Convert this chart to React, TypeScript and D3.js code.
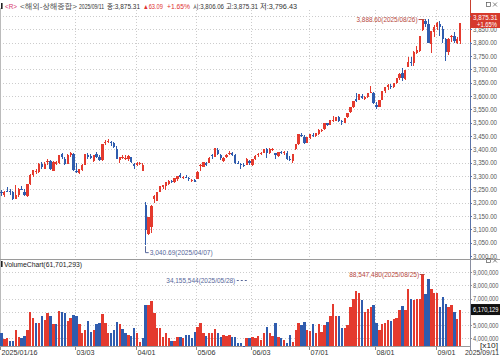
import React from "react";
import * as d3 from "d3";

const dates = [
  "2025-01-16","2025-01-17","2025-01-20","2025-01-21","2025-01-22","2025-01-23","2025-01-24","2025-01-27",
  "2025-02-05","2025-02-06","2025-02-07","2025-02-10","2025-02-11","2025-02-12","2025-02-13","2025-02-14","2025-02-17","2025-02-18","2025-02-19","2025-02-20","2025-02-21","2025-02-24","2025-02-25","2025-02-26","2025-02-27","2025-02-28",
  "2025-03-03","2025-03-04","2025-03-05","2025-03-06","2025-03-07","2025-03-10","2025-03-11","2025-03-12","2025-03-13","2025-03-14","2025-03-17","2025-03-18","2025-03-19","2025-03-20","2025-03-21","2025-03-24","2025-03-25","2025-03-26","2025-03-27","2025-03-28","2025-03-31",
  "2025-04-01","2025-04-02","2025-04-03","2025-04-07","2025-04-08","2025-04-09","2025-04-10","2025-04-11","2025-04-14","2025-04-15","2025-04-16","2025-04-17","2025-04-18","2025-04-21","2025-04-22","2025-04-23","2025-04-24","2025-04-25","2025-04-28","2025-04-29","2025-04-30",
  "2025-05-06","2025-05-07","2025-05-08","2025-05-09","2025-05-12","2025-05-13","2025-05-14","2025-05-15","2025-05-16","2025-05-19","2025-05-20","2025-05-21","2025-05-22","2025-05-23","2025-05-26","2025-05-27","2025-05-28","2025-05-29","2025-05-30",
  "2025-06-03","2025-06-04","2025-06-05","2025-06-06","2025-06-09","2025-06-10","2025-06-11","2025-06-12","2025-06-13","2025-06-16","2025-06-17","2025-06-18","2025-06-19","2025-06-20","2025-06-23","2025-06-24","2025-06-25","2025-06-26","2025-06-27","2025-06-30",
  "2025-07-01","2025-07-02","2025-07-03","2025-07-04","2025-07-07","2025-07-08","2025-07-09","2025-07-10","2025-07-11","2025-07-14","2025-07-15","2025-07-16","2025-07-17","2025-07-18","2025-07-21","2025-07-22","2025-07-23","2025-07-24","2025-07-25","2025-07-28","2025-07-29","2025-07-30","2025-07-31",
  "2025-08-01","2025-08-04","2025-08-05","2025-08-06","2025-08-07","2025-08-08","2025-08-11","2025-08-12","2025-08-13","2025-08-14","2025-08-15","2025-08-18","2025-08-19","2025-08-20","2025-08-21","2025-08-22","2025-08-25","2025-08-26","2025-08-27","2025-08-28","2025-08-29",
  "2025-09-01","2025-09-02","2025-09-03","2025-09-04","2025-09-05","2025-09-08","2025-09-09","2025-09-10","2025-09-11"
];

const opens = [
  3240,3230,3245,3243,3240,3214,3227,3252,3240,3226,
  3270,3305,3318,3314,3346,3328,3352,3355,3320,3345,
  3350,3382,3365,3346,3378,3383,3320,3310,3322,3343,
  3378,3374,3355,3383,3370,3360,3424,3428,3428,3422,
  3402,3360,3368,3366,3363,3370,3346,3340,3345,3318,
  3193,3082,3110,3215,3208,3241,3260,3262,3270,3280,
  3277,3290,3303,3292,3298,3293,3285,3285,3290,3342,
  3335,3350,3350,3380,3371,3399,3378,3358,3370,3385,
  3385,3377,3350,3344,3340,3342,3358,3340,3362,3378,
  3383,3388,3402,3386,3400,3385,3376,3390,3386,3387,
  3364,3355,3400,3420,3455,3445,3425,3444,3455,3450,
  3459,3468,3475,3497,3493,3510,3507,3522,3505,3500,
  3520,3540,3560,3588,3585,3600,3590,3595,3612,3613,
  3565,3560,3585,3617,3632,3638,3635,3650,3668,3685,
  3665,3710,3728,3722,3763,3770,3848,3880,3870,3795,
  3840,3860,3870,3850,3813,3765,3820,3826,3798,3806.06
];

const highs = [
  3246,3243,3257,3250,3242,3266,3256,3262,3250,3271,
  3306,3323,3325,3347,3352,3353,3362,3360,3355,3358,
  3380,3387,3370,3381,3389,3388,3347,3326,3345,3382,
  3386,3381,3380,3391,3378,3420,3436,3439,3432,3427,
  3412,3372,3380,3377,3380,3373,3349,3351,3353,3349,
  3203,3147,3190,3227,3239,3264,3268,3277,3285,3285,
  3292,3301,3310,3300,3305,3297,3290,3288,3317,3346,
  3354,3353,3370,3384,3404,3405,3384,3370,3384,3393,
  3390,3382,3358,3347,3348,3366,3360,3365,3378,3386,
  3389,3400,3405,3404,3405,3388,3391,3394,3393,3392,
  3374,3383,3421,3456,3460,3452,3446,3459,3462,3463,
  3475,3477,3498,3500,3510,3525,3522,3525,3509,3518,
  3535,3560,3582,3613,3606,3608,3599,3610,3636,3615,
  3576,3584,3618,3634,3645,3645,3648,3666,3688,3704,
  3697,3745,3746,3768,3788,3826,3884,3888.6,3887,3845,
  3866,3876,3880,3863,3818,3816,3829,3840,3820,3875.31
];

const lows = [
  3226,3222,3240,3230,3210,3212,3222,3248,3225,3222,
  3265,3296,3307,3310,3328,3325,3340,3322,3318,3341,
  3346,3365,3340,3345,3370,3318,3310,3306,3318,3343,
  3365,3363,3351,3369,3355,3358,3416,3423,3412,3404,
  3362,3348,3365,3360,3355,3348,3326,3338,3343,3318,
  3040.69,3080,3088,3198,3205,3240,3253,3246,3268,3272,
  3273,3283,3292,3288,3292,3280,3279,3276,3288,3320,
  3332,3338,3347,3364,3370,3378,3360,3352,3368,3380,
  3375,3345,3344,3327,3335,3340,3340,3338,3361,3372,
  3378,3385,3367,3384,3393,3365,3372,3382,3380,3360,
  3356,3350,3398,3418,3446,3420,3422,3440,3447,3448,
  3455,3466,3474,3487,3490,3502,3505,3503,3490,3498,
  3516,3538,3555,3577,3585,3590,3585,3591,3610,3570,
  3552,3558,3584,3613,3621,3627,3630,3645,3660,3658,
  3660,3708,3713,3712,3758,3765,3845,3859,3798,3761,
  3823,3846,3826,3799,3733,3752,3801,3799,3795,3796.43
];

const closes = [
  3236.0,3241.8,3244.4,3242.6,3213.6,3230.2,3252.6,3250.6,3229.5,3270.7,
  3303.7,3322.2,3318.1,3346.4,3332.5,3346.7,3355.8,3324.5,3351.5,3350.8,
  3379.1,3373.0,3346.0,3380.2,3388.1,3320.9,3316.9,3324.5,3341.9,3381.1,
  3372.6,3366.2,3379.8,3371.9,3358.7,3419.6,3426.1,3429.8,3426.4,3408.9,
  3364.8,3370.0,3369.9,3368.7,3373.7,3351.3,3335.8,3348.4,3350.1,3342.0,
  3096.6,3145.6,3186.8,3223.6,3238.2,3262.8,3267.7,3276.0,3280.3,3276.7,
  3291.4,3300.0,3296.4,3297.3,3295.1,3288.4,3286.7,3279.0,3316.1,3342.7,
  3352.0,3342.0,3369.2,3374.9,3403.9,3380.8,3367.5,3367.6,3380.5,3387.6,
  3380.2,3348.4,3346.8,3340.7,3339.9,3363.4,3347.5,3361.9,3376.2,3384.1,
  3385.4,3399.8,3384.8,3402.3,3402.7,3377.0,3388.7,3387.4,3388.8,3362.1,
  3359.9,3381.6,3420.6,3455.9,3448.5,3424.2,3444.4,3457.8,3454.8,3461.2,
  3472.3,3473.1,3497.5,3493.1,3509.7,3510.2,3519.7,3505.0,3503.8,3516.8,
  3534.5,3559.8,3581.9,3582.3,3605.7,3593.7,3597.9,3609.7,3615.7,3573.2,
  3559.9,3583.3,3617.6,3634.0,3639.7,3635.1,3647.6,3665.9,3683.5,3666.4,
  3696.8,3728.0,3727.3,3766.2,3771.1,3825.8,3883.6,3868.4,3800.3,3843.6,
  3857.9,3875.5,3858.1,3813.6,3765.9,3812.5,3826.8,3807.3,3812.2,3875.31
];

const volumes = [
  44100000,39300000,40000000,38300000,37600000,46400000,40700000,40000000,41700000,46400000,
  60200000,55500000,51900000,51900000,57100000,53600000,59000000,57100000,50700000,50700000,
  60700000,60200000,59000000,53100000,55500000,57900000,56700000,50700000,43600000,46400000,
  53100000,44800000,45900000,50700000,51900000,58300000,51900000,43600000,43600000,45900000,
  52400000,50700000,47100000,43600000,42400000,41700000,47900000,43600000,36900000,40000000,
  65500000,65500000,68100000,59000000,47900000,47900000,41200000,43600000,40000000,37600000,
  38300000,41200000,41200000,40000000,42400000,42400000,40000000,44800000,48300000,51900000,
  43600000,41700000,43600000,43600000,47100000,43600000,40700000,42400000,41700000,42400000,
  41200000,41200000,36400000,36400000,34155544,40500000,40000000,41200000,40000000,41900000,
  38800000,43600000,48800000,43600000,41900000,51400000,41200000,40500000,38800000,36400000,
  42400000,37100000,46600000,51400000,50000000,52400000,45900000,45200000,50700000,44300000,
  50700000,44800000,50000000,52400000,57100000,66200000,57100000,57100000,47600000,47600000,
  50000000,63300000,70000000,76000000,74000000,69000000,59500000,61900000,63300000,65000000,
  51400000,46600000,50700000,51400000,53800000,53100000,54800000,55500000,61400000,64500000,
  61400000,76900000,69800000,68600000,69800000,69800000,88547480,73300000,84500000,77400000,
  74000000,74500000,63800000,71000000,66000000,63800000,65500000,60200000,54300000,61701293
];

const priceTicks = [3000,3050,3100,3150,3200,3250,3300,3350,3400,3450,3500,3550,3600,3650,3700,3750,3800,3850,3900];
const volumeTicks = [40000000,50000000,60000000,70000000,80000000,90000000];
const monthTickDates = ["2025-01-16","2025-03-03","2025-04-01","2025-05-06","2025-06-03","2025-07-01","2025-08-01","2025-09-01"];
const monthTickLabels = ["2025/01/16","03/03","04/01","05/06","06/03","07/01","08/01","09/01"];

const RED = "#e43a2e";
const BLUE = "#2f5cae";
const FONT = "'Liberation Sans Narrow','Liberation Sans','Noto Sans CJK KR',sans-serif";

export default function App() {
  const W = 500, H = 357;
  const axisX = 470;
  const priceTop = 8, priceBottom = 259;
  const volTop = 260, volBottom = 346;

  const x = d3.scaleBand<string>().domain(dates).range([0, 461.6]).padding(0);
  const bw = x.bandwidth();
  const cx = (d: string) => (x(d) as number) + bw / 2;
  const yP = d3.scaleLinear().domain([3000, 3900]).range([256, 16]);
  const vMin = d3.min(volumes) as number;
  const vMax = d3.max(volumes) as number;
  const yV = d3.scaleLinear().domain([vMin, vMax]).range([volBottom, 274]);

  const fmtP = d3.format(",.2f");
  const fmtV = d3.format(",");
  const slash = (d: string) => d.replace(/-/g, "/");

  const iHi = d3.maxIndex(highs);
  const iLo = d3.minIndex(lows);
  const iVHi = d3.maxIndex(volumes);
  const iVLo = d3.minIndex(volumes);
  const last = dates.length - 1;

  const candleW = 2.3;
  const volW = 2.4;

  const priceBoxY = 13, priceBoxH = 15;
  const volBoxCenter = yV(volumes[last]);

  const header: [string, number, number, string][] = [
    ["<R>", 5, 12, "#d6336c"],
    ["<해외-상해종합>", 20, 57, "#555"],
    ["2025/09/11", 79, 25, "#333"],
    ["종:3,875.31", 107, 33, "#333"],
    ["▲63.09", 143, 20, "#e03131"],
    ["+1.65%", 167, 23, "#e03131"],
    ["시:3,806.06", 193, 31, "#333"],
    ["고:3,875.31", 226, 32, "#333"],
    ["저:3,796.43", 260, 37, "#333"],
  ];

  return (
    <svg width={W} height={H} style={{ position: "absolute", left: 0, top: 0, background: "#fff" }} fontFamily={FONT}>
      <rect x={0} y={0} width={W} height={H} fill="#fff" />
      {/* header */}
      <rect x={1} y={3} width={1.6} height={6} fill="#222" />
      {header.map(([t, hx, w, c], i) => (
        <text key={"h" + i} x={hx} y={9} fontSize={6.8} fill={c} textLength={w} lengthAdjust="spacingAndGlyphs">{t}</text>
      ))}
      {/* window icons */}
      <g stroke="#555" strokeWidth={0.7} fill="none">
        <rect x={486.5} y={2.5} width={4} height={4} />
        <path d="M493,2.5 L497,6.5 M497,2.5 L493,6.5" />
        <rect x={486.5} y={258.5} width={4} height={4} />
        <path d="M493,258.5 L497,262.5 M497,258.5 L493,262.5" />
      </g>

      {/* horizontal gridlines - price */}
      {priceTicks.filter(t => t > 3000).map(t => (
        <line key={"gp" + t} x1={0} x2={axisX} y1={Math.round(yP(t)) + 0.5} y2={Math.round(yP(t)) + 0.5} stroke="#cccccc" strokeDasharray="1 2" strokeWidth={1} />
      ))}
      {/* horizontal gridlines - volume */}
      {volumeTicks.map(t => (
        <line key={"gv" + t} x1={0} x2={axisX} y1={Math.round(yV(t)) + 0.5} y2={Math.round(yV(t)) + 0.5} stroke="#cccccc" strokeDasharray="1 2" strokeWidth={1} />
      ))}
      {/* vertical gridlines */}
      {monthTickDates.map(d => {
        const gx = Math.round(x(d) as number) + 0.5;
        return (
          <g key={"gx" + d}>
            <line x1={gx} x2={gx} y1={priceTop + 2} y2={volBottom} stroke="#cccccc" strokeDasharray="1 2" />
            <line x1={gx} x2={gx} y1={volBottom} y2={volBottom + 4} stroke="#888" />
          </g>
        );
      })}

      {/* panel borders */}
      <line x1={0.5} x2={0.5} y1={priceTop} y2={volBottom} stroke="#bbb" />
      <line x1={0} x2={W} y1={priceBottom + 0.5} y2={priceBottom + 0.5} stroke="#9a9a9a" />
      <line x1={0} x2={axisX} y1={volBottom + 0.5} y2={volBottom + 0.5} stroke="#9a9a9a" />
      <line x1={axisX + 0.5} x2={axisX + 0.5} y1={priceTop} y2={priceBottom} stroke="#5a72a8" />
      <line x1={axisX + 0.5} x2={axisX + 0.5} y1={0} y2={42} stroke="#c8402f" />
      <line x1={axisX + 0.5} x2={axisX + 0.5} y1={volTop} y2={volBottom + 4} stroke="#8a8fa0" />

      {/* candles */}
      <g shapeRendering="crispEdges">
        {dates.map((d, i) => {
          const up = closes[i] >= opens[i];
          const col = up ? RED : BLUE;
          const c = cx(d);
          const top = yP(Math.max(opens[i], closes[i]));
          const bot = yP(Math.min(opens[i], closes[i]));
          return (
            <g key={"c" + d}>
              <line x1={Math.floor(c) + 0.5} x2={Math.floor(c) + 0.5} y1={yP(highs[i])} y2={yP(lows[i])} stroke={col} strokeWidth={1} />
              <rect x={c - candleW / 2} y={top} width={candleW} height={Math.max(1, bot - top)} fill={col} />
            </g>
          );
        })}
      </g>

      {/* volume bars */}
      <g shapeRendering="crispEdges">
        {dates.map((d, i) => {
          const up = i === 0 ? closes[i] >= opens[i] : closes[i] >= closes[i - 1];
          const col = up ? RED : BLUE;
          const c = cx(d);
          const yy = yV(volumes[i]);
          return <rect key={"v" + d} x={c - volW / 2} y={yy} width={volW} height={Math.max(0.5, volBottom - yy)} fill={col} />;
        })}
      </g>

      {/* price axis labels (the one hidden under the current-price box is not drawn) */}
      {priceTicks.map(t => (
        <g key={"pl" + t}>
          <line x1={axisX} x2={axisX + 2} y1={Math.round(yP(t)) + 0.5} y2={Math.round(yP(t)) + 0.5} stroke="#5a72a8" />
          {Math.abs(yP(t) - (priceBoxY + priceBoxH / 2)) > 8 && (
            <text x={473} y={yP(t) + 2.6} fontSize={7.2} fill="#555" textLength={24} lengthAdjust="spacingAndGlyphs">{fmtP(t)}</text>
          )}
        </g>
      ))}
      {/* volume axis labels */}
      {volumeTicks.map(t => (
        <g key={"vl" + t}>
          <line x1={axisX} x2={axisX + 2} y1={Math.round(yV(t)) + 0.5} y2={Math.round(yV(t)) + 0.5} stroke="#8a8fa0" />
          {Math.abs(yV(t) - volBoxCenter) > 6 && (
            <text x={473} y={yV(t) + 2.6} fontSize={7.2} fill="#555" textLength={25.5} lengthAdjust="spacingAndGlyphs">{fmtV(t / 10)}</text>
          )}
        </g>
      ))}
      <text x={480} y={348} fontSize={6.5} fill="#222" textLength={18} lengthAdjust="spacingAndGlyphs">[x10]</text>

      {/* current price box */}
      <rect x={471} y={priceBoxY} width={29} height={priceBoxH} fill="#d6392c" />
      <text x={473} y={19.6} fontSize={7} fill="#fff" textLength={24.5} lengthAdjust="spacingAndGlyphs">{fmtP(closes[last])}</text>
      <text x={477} y={26.6} fontSize={7} fill="#fff" textLength={20} lengthAdjust="spacingAndGlyphs">+1.65%</text>

      {/* current volume box */}
      <rect x={471} y={volBoxCenter - 5.5} width={29} height={11} fill="#111" />
      <text x={473} y={volBoxCenter + 2.6} fontSize={7.2} fill="#fff" textLength={25.5} lengthAdjust="spacingAndGlyphs">{fmtV(Math.round(volumes[last] / 10))}</text>

      {/* max high annotation */}
      <line x1={cx(dates[iHi]) - 7} x2={cx(dates[iHi]) - 1} y1={yP(highs[iHi]) + 0.5} y2={yP(highs[iHi]) + 0.5} stroke="#b5473c" />
      <text x={cx(dates[iHi]) - 8} y={yP(highs[iHi]) + 3} fontSize={7.5} fill="#b5473c" textAnchor="end" textLength={61} lengthAdjust="spacingAndGlyphs">{`${fmtP(highs[iHi])}(${slash(dates[iHi])})`}</text>

      {/* min low annotation */}
      <path d={`M${Math.floor(cx(dates[iLo])) + 0.5},${yP(lows[iLo]) + 1} V${yP(lows[iLo]) + 7.5} H${cx(dates[iLo]) + 3}`} stroke="#56679a" fill="none" />
      <text x={cx(dates[iLo]) + 4} y={yP(lows[iLo]) + 10} fontSize={7.5} fill="#56679a" textLength={63} lengthAdjust="spacingAndGlyphs">{`${fmtP(lows[iLo])}(${slash(dates[iLo])})`}</text>

      {/* volume max annotation */}
      <line x1={cx(dates[iVHi]) - 3} x2={cx(dates[iVHi]) + 2} y1={yV(volumes[iVHi]) + 0.5} y2={yV(volumes[iVHi]) + 0.5} stroke="#b5473c" />
      <text x={cx(dates[iVHi]) - 3.5} y={yV(volumes[iVHi]) + 3} fontSize={7.5} fill="#b5473c" textAnchor="end" textLength={70} lengthAdjust="spacingAndGlyphs">{`${fmtV(volumes[iVHi])}(${slash(dates[iVHi])})`}</text>

      {/* volume min annotation */}
      <line x1={cx(dates[iVLo]) - 7} x2={cx(dates[iVLo]) + 4} y1={280.5} y2={280.5} stroke="#56679a" strokeDasharray="2 2" />
      <text x={cx(dates[iVLo]) - 8.5} y={283} fontSize={7.5} fill="#56679a" textAnchor="end" textLength={69} lengthAdjust="spacingAndGlyphs">{`${fmtV(volumes[iVLo])}(${slash(dates[iVLo])})`}</text>

      {/* volume title */}
      <rect x={1} y={261} width={1.6} height={6} fill="#222" />
      <text x={4} y={267} fontSize={7.5} fill="#222" textLength={78} lengthAdjust="spacingAndGlyphs">{`VolumeChart(${fmtV(volumes[last])})`}</text>

      {/* x axis labels */}
      {monthTickDates.map((d, i) => (
        <text key={"xl" + d} x={Math.round(x(d) as number) + 1.5} y={355} fontSize={7.5} fill="#333"
          textLength={i === 0 ? 36 : 18} lengthAdjust="spacingAndGlyphs">{monthTickLabels[i]}</text>
      ))}
      <text x={465} y={355} fontSize={7.5} fill="#333" textLength={34} lengthAdjust="spacingAndGlyphs">{slash(dates[last])}</text>
    </svg>
  );
}
